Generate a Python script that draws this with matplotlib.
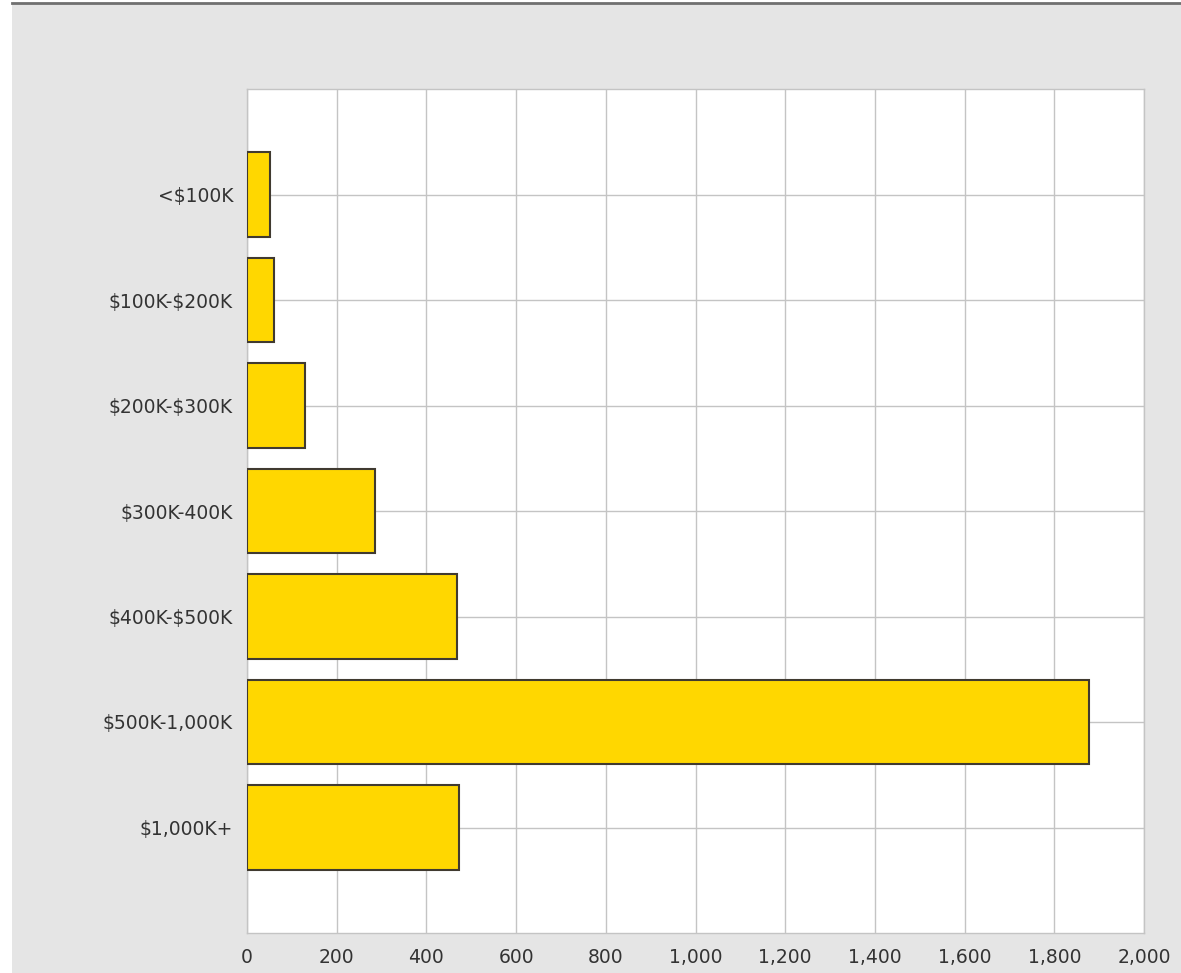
import matplotlib
matplotlib.use("Agg")
import matplotlib.pyplot as plt
from matplotlib.patches import Rectangle
from matplotlib.lines import Line2D

# Datos
categorias = ["<$100K", "$100K-$200K", "$200K-$300K", "$300K-400K",
              "$400K-$500K", "$500K-1,000K", "$1,000K+"]
valores = [51, 60, 129, 285, 468, 1877, 473]
ticks_x = [0, 200, 400, 600, 800, 1000, 1200, 1400, 1600, 1800, 2000]

fig = plt.figure(figsize=(11.81, 9.73), dpi=100)
fig.patch.set_facecolor("white")

# Fondo gris y línea superior (detrás de los ejes)
fig.patches.append(Rectangle((12 / 1181, 0), 1 - 12 / 1181, 1 - 4 / 973,
                             transform=fig.transFigure, facecolor="#e5e5e5",
                             edgecolor="none", zorder=-2))
fig.lines.append(Line2D([12 / 1181, 1], [1 - 3 / 973, 1 - 3 / 973],
                        transform=fig.transFigure, color="#707070", lw=2,
                        zorder=-1))

ax = fig.add_axes([247 / 1181, 1 - 933 / 973, 897 / 1181, 844 / 973])
ax.set_facecolor("white")

pos = list(range(len(categorias)))
ax.barh(pos, valores, height=0.8, color="#ffd700", edgecolor="#403a30",
        linewidth=1.5, zorder=3)

ax.set_xlim(0, 2000)
ax.set_ylim(len(categorias), -1)
ax.set_yticks(pos)
# escapar el $ para que no se interprete como mathtext
ax.set_yticklabels([c.replace("$", r"\$") for c in categorias])
ax.set_xticks(ticks_x)
ax.set_xticklabels([f"{t:,}" for t in ticks_x])

ax.grid(True, color="#c4c4c4", linewidth=1, zorder=0)
ax.tick_params(length=0, labelsize=13.5, labelcolor="#333333")
ax.tick_params(axis="x", pad=11)
ax.tick_params(axis="y", pad=10)
for s in ax.spines.values():
    s.set_color("#c4c4c4")
    s.set_linewidth(1)

fig.savefig("out.png", dpi=100)
